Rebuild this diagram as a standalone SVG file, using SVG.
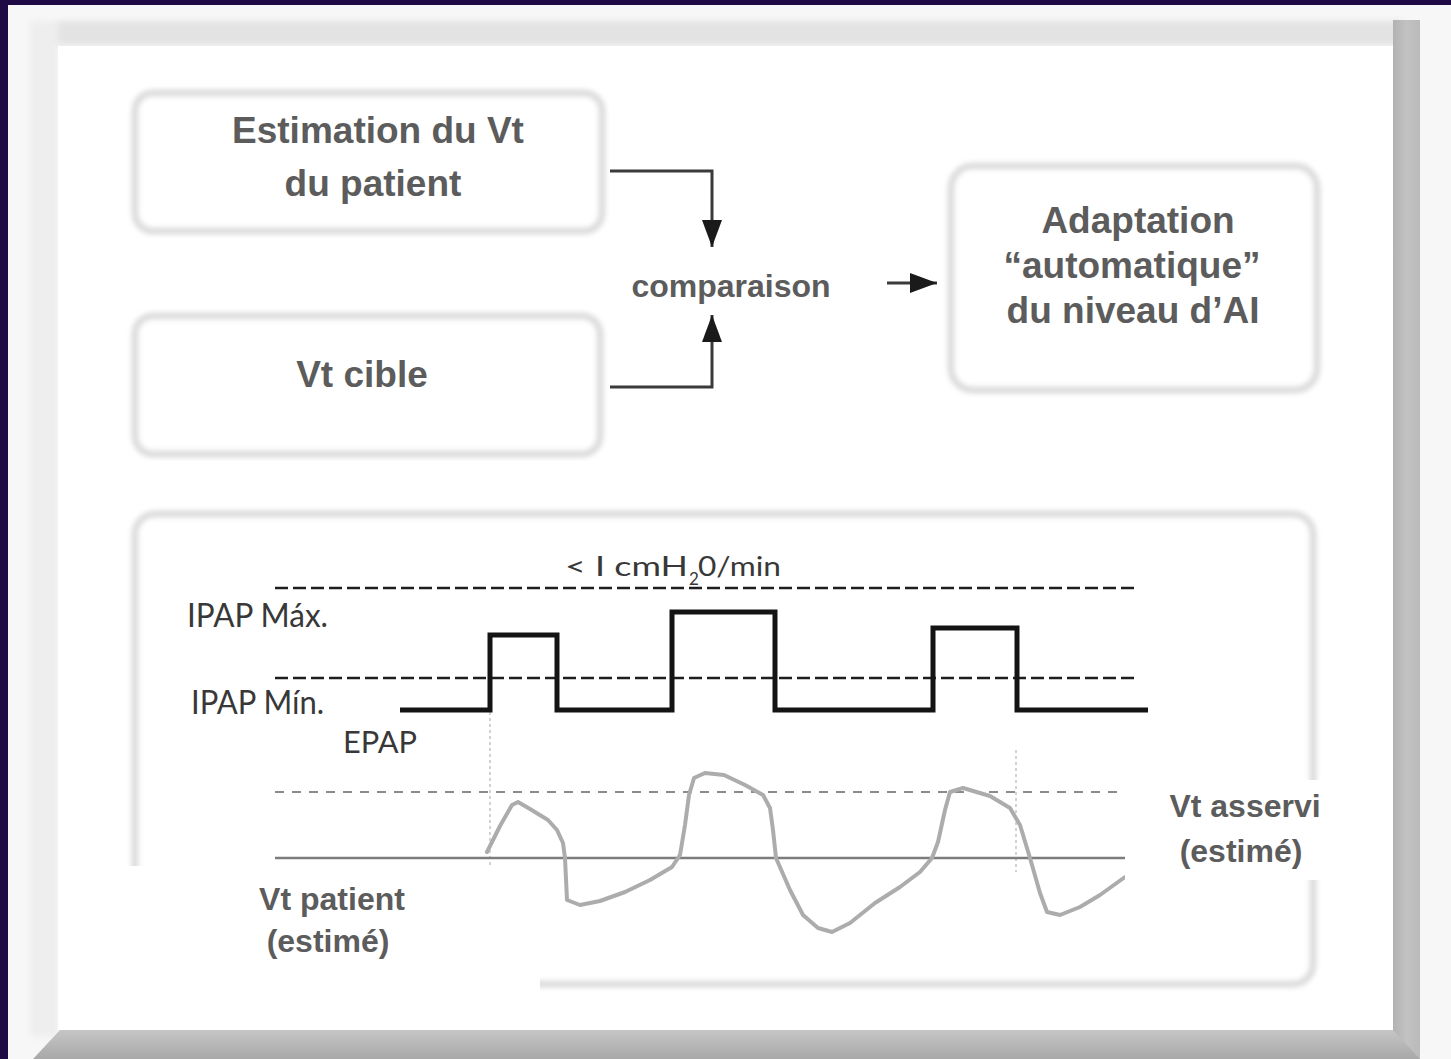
<svg xmlns="http://www.w3.org/2000/svg" width="1451" height="1059" viewBox="0 0 1451 1059">
<defs>
<style>
.lbl{font-family:'Liberation Sans',Arial,sans-serif;font-weight:bold;fill:#5c5c5c;text-anchor:middle}
.big{font-size:37px}
.mid{font-size:32px}
.wl{font-family:Lato,'Liberation Sans',sans-serif;fill:#383838}
.box{fill:#fff;stroke:#dcdcdc;stroke-width:7;filter:url(#soft)}
.conn{fill:none;stroke:#3a3a3a;stroke-width:3}
.dash{fill:none;stroke:#1e1e1e;stroke-width:2.5;stroke-dasharray:13 5}
.gdash{fill:none;stroke:#8a8a8a;stroke-width:2;stroke-dasharray:9 8}
.vdot{fill:none;stroke:#c4c4c4;stroke-width:1.5;stroke-dasharray:3 3}
</style>
<filter id="soft" x="-5%" y="-5%" width="110%" height="110%"><feGaussianBlur stdDeviation="2.8"/></filter>
<filter id="fblur" x="-2%" y="-2%" width="104%" height="104%"><feGaussianBlur stdDeviation="3"/></filter>
<marker id="ah" markerUnits="userSpaceOnUse" markerWidth="28" markerHeight="22" refX="27" refY="11" orient="auto" viewBox="0 0 28 22"><path d="M0,1 L27,11 L0,21 z" fill="#1a1a1a"/></marker>
<linearGradient id="botg" x1="0" y1="0" x2="0" y2="1"><stop offset="0" stop-color="#c6c6c6"/><stop offset="1" stop-color="#a8a8a8"/></linearGradient>
<linearGradient id="rg" x1="0" y1="0" x2="1" y2="0"><stop offset="0" stop-color="#b2b2b2"/><stop offset="0.5" stop-color="#c2c2c2"/><stop offset="1" stop-color="#bababa"/></linearGradient>
</defs>

<g id="frame">
<rect x="0" y="0" width="1451" height="1059" fill="#1f0a45"/>
<rect x="8" y="5" width="1443" height="1054" fill="#f7f7f7"/>
<g filter="url(#fblur)">
<rect x="30" y="21" width="1372" height="24" fill="#e3e3e3"/>
<rect x="30" y="21" width="28" height="1016" fill="#eeeeee"/>
</g>
<rect x="58" y="46" width="1335" height="984" fill="#ffffff"/>
<rect x="1393" y="20" width="27" height="1039" fill="url(#rg)"/>
<polygon points="33,1059 60,1030 1393,1030 1420,1059" fill="url(#botg)"/>
</g>

<g id="box-estimation">
<rect class="box" x="135" y="93" width="467" height="138" rx="18"/>
<text class="lbl big" x="378" y="143">Estimation du Vt</text>
<text class="lbl big" x="373" y="196">du patient</text>
</g>

<g id="box-cible">
<rect class="box" x="135" y="316" width="465" height="138" rx="18"/>
<text class="lbl big" x="362" y="387">Vt cible</text>
</g>

<g id="node-comparaison">
<text class="lbl mid" x="731" y="297">comparaison</text>
</g>

<g id="box-adaptation">
<rect class="box" x="951" y="166" width="366" height="224" rx="22"/>
<text class="lbl big" x="1138" y="233">Adaptation</text>
<text class="lbl big" x="1132" y="278">“automatique”</text>
<text class="lbl big" x="1133" y="323">du niveau d’AI</text>
</g>

<g id="connectors">
<path class="conn" d="M610,171 H712 V247" marker-end="url(#ah)"/>
<path class="conn" d="M610,387 H712 V315" marker-end="url(#ah)"/>
<path class="conn" d="M887,283 H937" marker-end="url(#ah)"/>
</g>

<g id="chart">
<rect class="box" x="135" y="514" width="1178" height="470" rx="20"/>
<line class="dash" x1="275" y1="588" x2="1137" y2="588"/>
<line class="dash" x1="275" y1="678" x2="1137" y2="678"/>
<line class="vdot" x1="490" y1="712" x2="490" y2="866"/>
<line class="vdot" x1="1016" y1="750" x2="1016" y2="872"/>
<path d="M400,710 H490 V635 H557 V710 H672 V612 H775 V710 H933 V628 H1017 V710 H1148" fill="none" stroke="#141414" stroke-width="5"/>
<line class="gdash" x1="275" y1="792" x2="1125" y2="792"/>
<line x1="275" y1="858" x2="1125" y2="858" stroke="#7c7c7c" stroke-width="2.5"/>
<path d="M487,852 L500,826 L512,805 L518,802 L530,809 L548,820 L557,830 L563,843 L565,858 L567,900 L580,905 L600,901 L625,892 L650,880 L672,867 L680,855 L685,825 L689,795 L694,778 L705,773 L724,775 L745,785 L763,795 L770,808 L773,830 L776,858 L790,890 L803,915 L818,928 L832,932 L850,923 L875,903 L900,887 L920,872 L932,858 L938,842 L945,810 L950,792 L963,788 L990,796 L1010,808 L1020,825 L1030,858 L1040,893 L1047,912 L1060,915 L1080,907 L1100,895 L1125,877" fill="none" stroke="#acacac" stroke-width="4" stroke-linejoin="round" stroke-linecap="round"/>
<text class="wl" x="187" y="627" font-size="32" textLength="141" lengthAdjust="spacingAndGlyphs">IPAP Máx.</text>
<text class="wl" x="191" y="714" font-size="32" textLength="133" lengthAdjust="spacingAndGlyphs">IPAP Mín.</text>
<text class="wl" x="343" y="753" font-size="31" textLength="74" lengthAdjust="spacingAndGlyphs">EPAP</text>
<text class="wl" x="565" y="576" font-size="27" textLength="123" lengthAdjust="spacingAndGlyphs">&lt; I cmH</text>
<text class="wl" x="689" y="585" font-size="17">2</text>
<text class="wl" x="698" y="576" font-size="27" textLength="83" lengthAdjust="spacingAndGlyphs">0/min</text>
</g>

<g id="label-vt-patient">
<rect x="100" y="866" width="440" height="162" fill="#ffffff"/>
<text class="lbl mid" x="332" y="910">Vt patient</text>
<text class="lbl mid" x="328" y="952">(estimé)</text>
</g>

<g id="label-vt-asservi">
<rect x="1125" y="780" width="205" height="100" fill="#ffffff"/>
<text class="lbl mid" x="1245" y="817">Vt asservi</text>
<text class="lbl mid" x="1241" y="862">(estimé)</text>
</g>
</svg>
